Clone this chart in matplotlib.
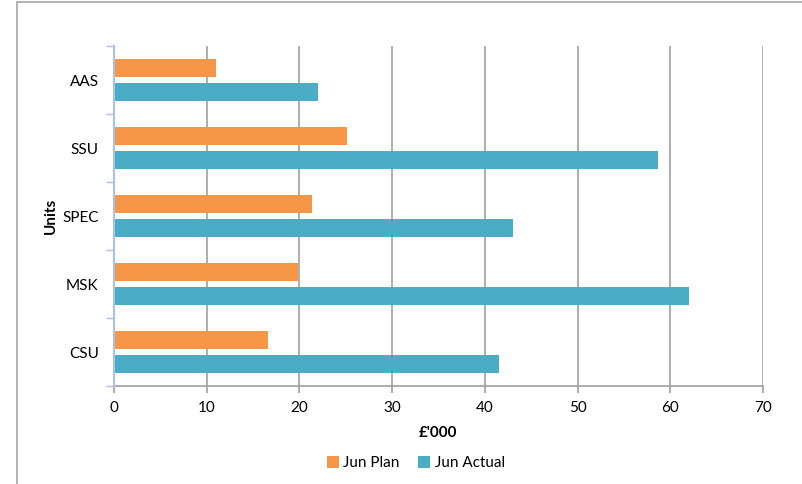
import numpy as np
import matplotlib.pyplot as plt
from matplotlib.patches import Rectangle

units = ["CSU", "MSK", "SPEC", "SSU", "AAS"]
jun_plan = [16.6, 19.8, 21.4, 25.1, 11.0]
jun_actual = [41.5, 62.0, 43.0, 58.7, 22.0]
x_ticks = [0, 10, 20, 30, 40, 50, 60, 70]

plt.rcParams['font.family'] = ['Lato', 'DejaVu Sans']

fig = plt.figure(figsize=(8.03, 4.84), dpi=100)
ax = fig.add_axes([114 / 803, 1 - 386 / 484, 649 / 803, 340 / 484])

# outer chart frame (cut off at right and bottom like the screenshot)
fig.patches.append(Rectangle((17 / 803, -0.1), 1.2, 1 - 2 / 484 + 0.1,
                             transform=fig.transFigure, fill=False,
                             edgecolor="#a6a6a6", lw=1.2))

y = np.arange(len(units))
h = 0.265
ax.barh(y + 0.17, jun_plan, height=h, color="#F79646", label="Jun Plan", zorder=3)
ax.barh(y - 0.17, jun_actual, height=h, color="#4BACC6", label="Jun Actual", zorder=3)

ax.set_xlim(0, 70)
ax.set_ylim(-0.5, len(units) - 0.5)
ax.set_xticks(x_ticks)
ax.set_yticks(y)
ax.set_yticklabels(units)
ax.set_yticks(np.arange(-0.5, len(units)), minor=True)
ax.tick_params(axis="y", which="major", length=0, pad=11, labelsize=11)
ax.tick_params(axis="y", which="minor", length=6, color="#a9c4eb", width=1)
ax.tick_params(axis="x", length=5, color="#a0a0a0", width=1.2, labelsize=11, pad=6)

ax.grid(axis="x", color="#a0a0a0", lw=1.2, zorder=0)
for s in ["top", "right"]:
    ax.spines[s].set_visible(False)
ax.spines["left"].set_color("#a9c4eb")
ax.spines["left"].set_linewidth(1.5)
ax.spines["left"].set_zorder(4)
ax.spines["bottom"].set_color("#a0a0a0")
ax.spines["bottom"].set_linewidth(1.2)

ax.set_xlabel("£'000", fontweight="bold", fontsize=11, labelpad=8)
ax.set_ylabel("Units", fontweight="bold", fontsize=11, labelpad=3)

ax.legend(loc="upper center", bbox_to_anchor=(0.465, -0.165), ncol=2, frameon=False,
          fontsize=11, handlelength=0.8, handleheight=0.8, handletextpad=0.3,
          columnspacing=1.2)

plt.savefig("out.png", dpi=100)
